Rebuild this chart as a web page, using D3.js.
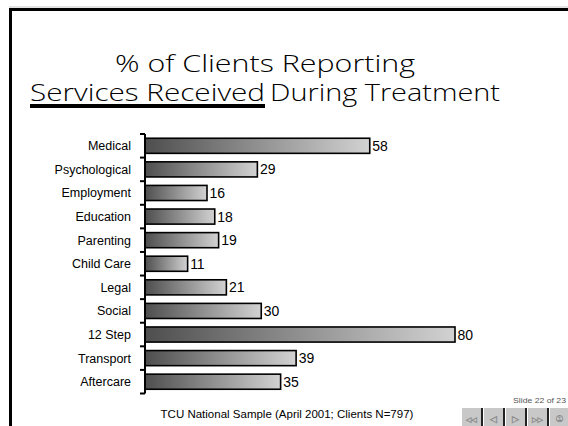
<!DOCTYPE html>
<html><head><meta charset="utf-8">
<script src="https://cdn.jsdelivr.net/npm/d3@7"></script>
<style>html,body{margin:0;padding:0;background:#fff;overflow:hidden}</style>
</head><body>
<script>
const categories = ["Medical","Psychological","Employment","Education","Parenting","Child Care","Legal","Social","12 Step","Transport","Aftercare"];
const values = [58,29,16,18,19,11,21,30,80,39,35];
const titleLine1 = "% of Clients Reporting";
const titleUnderlined = "Services Received";
const titleRest = "During Treatment";
const footnote = "TCU National Sample (April 2001; Clients N=797)";
const slideLabel = "Slide 22 of 23";

const W = 568, H = 426;
const svg = d3.select("body").append("svg").attr("width", W).attr("height", H);

// frame
svg.append("rect").attr("x",9).attr("y",6.5).attr("width",W).attr("height",1).attr("fill","#c8c8c8");
svg.append("rect").attr("x",9).attr("y",8).attr("width",W).attr("height",3).attr("fill","#000");
svg.append("rect").attr("x",9).attr("y",8).attr("width",3).attr("height",H).attr("fill","#000");

// title
const tf = "'Open Sans', 'DejaVu Sans', sans-serif";
const fs = 24.5;
svg.append("text").attr("x",115).attr("y",72).attr("font-family",tf).attr("font-size",fs).attr("font-weight",300)
  .attr("textLength",300).attr("lengthAdjust","spacingAndGlyphs").text(titleLine1);
svg.append("text").attr("x",30).attr("y",101).attr("font-family",tf).attr("font-size",fs).attr("font-weight",300)
  .attr("textLength",235).attr("lengthAdjust","spacingAndGlyphs").text(titleUnderlined);
svg.append("rect").attr("x",30).attr("y",104).attr("width",235).attr("height",4).attr("fill","#000");
svg.append("text").attr("x",270).attr("y",101).attr("font-family",tf).attr("font-size",fs).attr("font-weight",300)
  .attr("textLength",230).attr("lengthAdjust","spacingAndGlyphs").text(titleRest);

// gradient
const defs = svg.append("defs");
const g = defs.append("linearGradient").attr("id","barGrad").attr("x1","0%").attr("x2","100%").attr("y1","0%").attr("y2","0%");
g.append("stop").attr("offset","0%").attr("stop-color","#4e4e4e");
g.append("stop").attr("offset","100%").attr("stop-color","#d2d2d2");

const x = d3.scaleLinear().domain([0,80]).range([145,455]);
const y = d3.scaleBand().domain(categories).range([134,393.5]).paddingInner(0.36).paddingOuter(0.18);

const data = categories.map((c,i)=>({c, v: values[i]}));
const af = "'Liberation Sans', Arial, sans-serif";

svg.selectAll("rect.bar").data(data).enter().append("rect").attr("class","bar")
  .attr("x", x(0)).attr("y", d=>y(d.c)).attr("width", d=>x(d.v)-x(0)).attr("height", y.bandwidth())
  .attr("fill","url(#barGrad)").attr("stroke","#000").attr("stroke-width",1.6);

svg.selectAll("text.val").data(data).enter().append("text").attr("class","val")
  .attr("x", d=>x(d.v)+2.5).attr("y", d=>y(d.c)+y.bandwidth()/2+5)
  .attr("font-family",af).attr("font-size",14).text(d=>d.v);

svg.selectAll("text.cat").data(data).enter().append("text").attr("class","cat")
  .attr("x",131).attr("y", d=>y(d.c)+y.bandwidth()/2+4.5).attr("text-anchor","end")
  .attr("font-family",af).attr("font-size",12.5).text(d=>d.c);

// axis
const [r0,r1] = y.range();
svg.append("line").attr("x1",x(0)).attr("x2",x(0)).attr("y1",r0).attr("y2",r1).attr("stroke","#000").attr("stroke-width",2);
const step = y.step();
const tickYs = d3.range(categories.length+1).map(k=> r0 + k*step);
svg.selectAll("line.tick").data(tickYs).enter().append("line").attr("class","tick")
  .attr("x1",x(0)-5).attr("x2",x(0)).attr("y1",d=>d).attr("y2",d=>d).attr("stroke","#000").attr("stroke-width",2);

// footnote
svg.append("text").attr("x",287).attr("y",418).attr("text-anchor","middle").attr("font-family",af)
  .attr("font-size",11.5).text(footnote);

// slide nav
svg.append("text").attr("x",566).attr("y",403).attr("text-anchor","end").attr("font-family",af)
  .attr("font-size",8).attr("fill","#555").attr("textLength",53).attr("lengthAdjust","spacingAndGlyphs").text(slideLabel);
const btnX = [462,484,506,528,550];
const glyphs = ["◁◁","◁","▷","▷▷","①"];
btnX.forEach((bx,i)=>{
  svg.append("rect").attr("x",bx).attr("y",408).attr("width",19).attr("height",20).attr("fill","#c8c8c8");
  svg.append("rect").attr("x",bx+19).attr("y",408).attr("width",2).attr("height",20).attr("fill","#222");
  svg.append("text").attr("x",bx+9.5).attr("y",422).attr("text-anchor","middle").attr("font-family","'DejaVu Sans',sans-serif")
    .attr("font-size", (i===0||i===3)?7:9).attr("fill","#eee").attr("stroke","#888").attr("stroke-width",0.5).text(glyphs[i]);
});
</script>
</body></html>
